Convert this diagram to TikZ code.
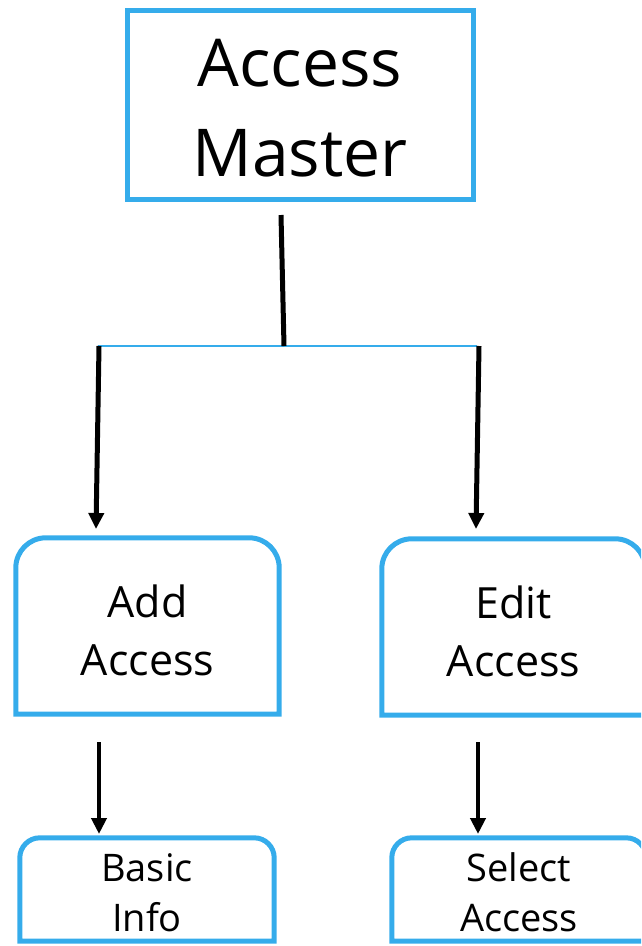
\documentclass[tikz,border=0pt]{standalone}
\usepackage{fontspec}
\setmainfont{Open Sans}
\usetikzlibrary{arrows.meta}
\definecolor{boxblue}{RGB}{53, 172, 235}
\tikzset{box/.style = {inner sep = 0, minimum width = 263, minimum height = 176}}
\tikzset{smallbox/.style = {box, minimum width = 254, minimum height = 103}}
\tikzset{boxtext/.style = {inner sep = 0, align = center, font = \fontsize{43}{58}\selectfont}}
\tikzset{smalltext/.style = {boxtext, font = \fontsize{38}{50}\selectfont}}
\tikzset{outline/.style = {draw = boxblue, line width = 5pt}}
\tikzset{link/.style = {line width = 5pt, -{Triangle[length = 16pt, width = 15pt]}}}

\begin{document}
\begin{tikzpicture}[x = 1pt, y = -1pt]
    \useasboundingbox (0, 0) rectangle (641, 946);
    \clip (0, 0) rectangle (641, 946);

    \node [box, outline, minimum width = 346, minimum height = 189,
        label = {[boxtext, yshift = -3pt, font = \fontsize{66}{90}\selectfont]center:Access\\Master}] (master) at (300, 105) {};

    \node [box, label = {[boxtext, yshift = -4pt]center:Add\\Access}] (add) at (147.5, 626) {};
    \node [box, label = {[boxtext, yshift = -4pt]center:Edit\\Access}] (edit) at (513.5, 627) {};
    \node [smallbox, label = {[smalltext, yshift = -3pt]center:Basic\\Info}] (basic) at (147, 889.5) {};
    \node [smallbox, label = {[smalltext, yshift = -3pt]center:Select\\Access}] (select) at (519, 889.5) {};

    \foreach \n/\r in {add/30, edit/30, basic/20, select/20}
        \draw [outline] (\n.south west) [rounded corners = \r pt] -- (\n.north west) -- (\n.north east) [sharp corners] -- (\n.south east) -- cycle;

    \coordinate (stemtop) at (281, 215);
    \coordinate (stembot) at (284, 346);
    \coordinate (barleft) at (98, 346);
    \coordinate (barright) at (477, 346);
    \coordinate (addin) at (96, 529);
    \coordinate (editin) at (476, 529);
    \coordinate (addout) at (99, 742);
    \coordinate (basicin) at (99, 834);
    \coordinate (editout) at (478, 742);
    \coordinate (selectin) at (478, 834);

    \draw [boxblue, line width = 2pt] (barleft) -- (barright);
    \draw [line width = 5pt] (stemtop) -- (stembot);
    \draw [link] ([xshift = 1pt] barleft) -- (addin);
    \draw [link] ([xshift = 2pt] barright) -- (editin);
    \draw [link, line width = 4.5pt] (addout) -- (basicin);
    \draw [link, line width = 4.5pt] (editout) -- (selectin);
\end{tikzpicture}
\end{document}
